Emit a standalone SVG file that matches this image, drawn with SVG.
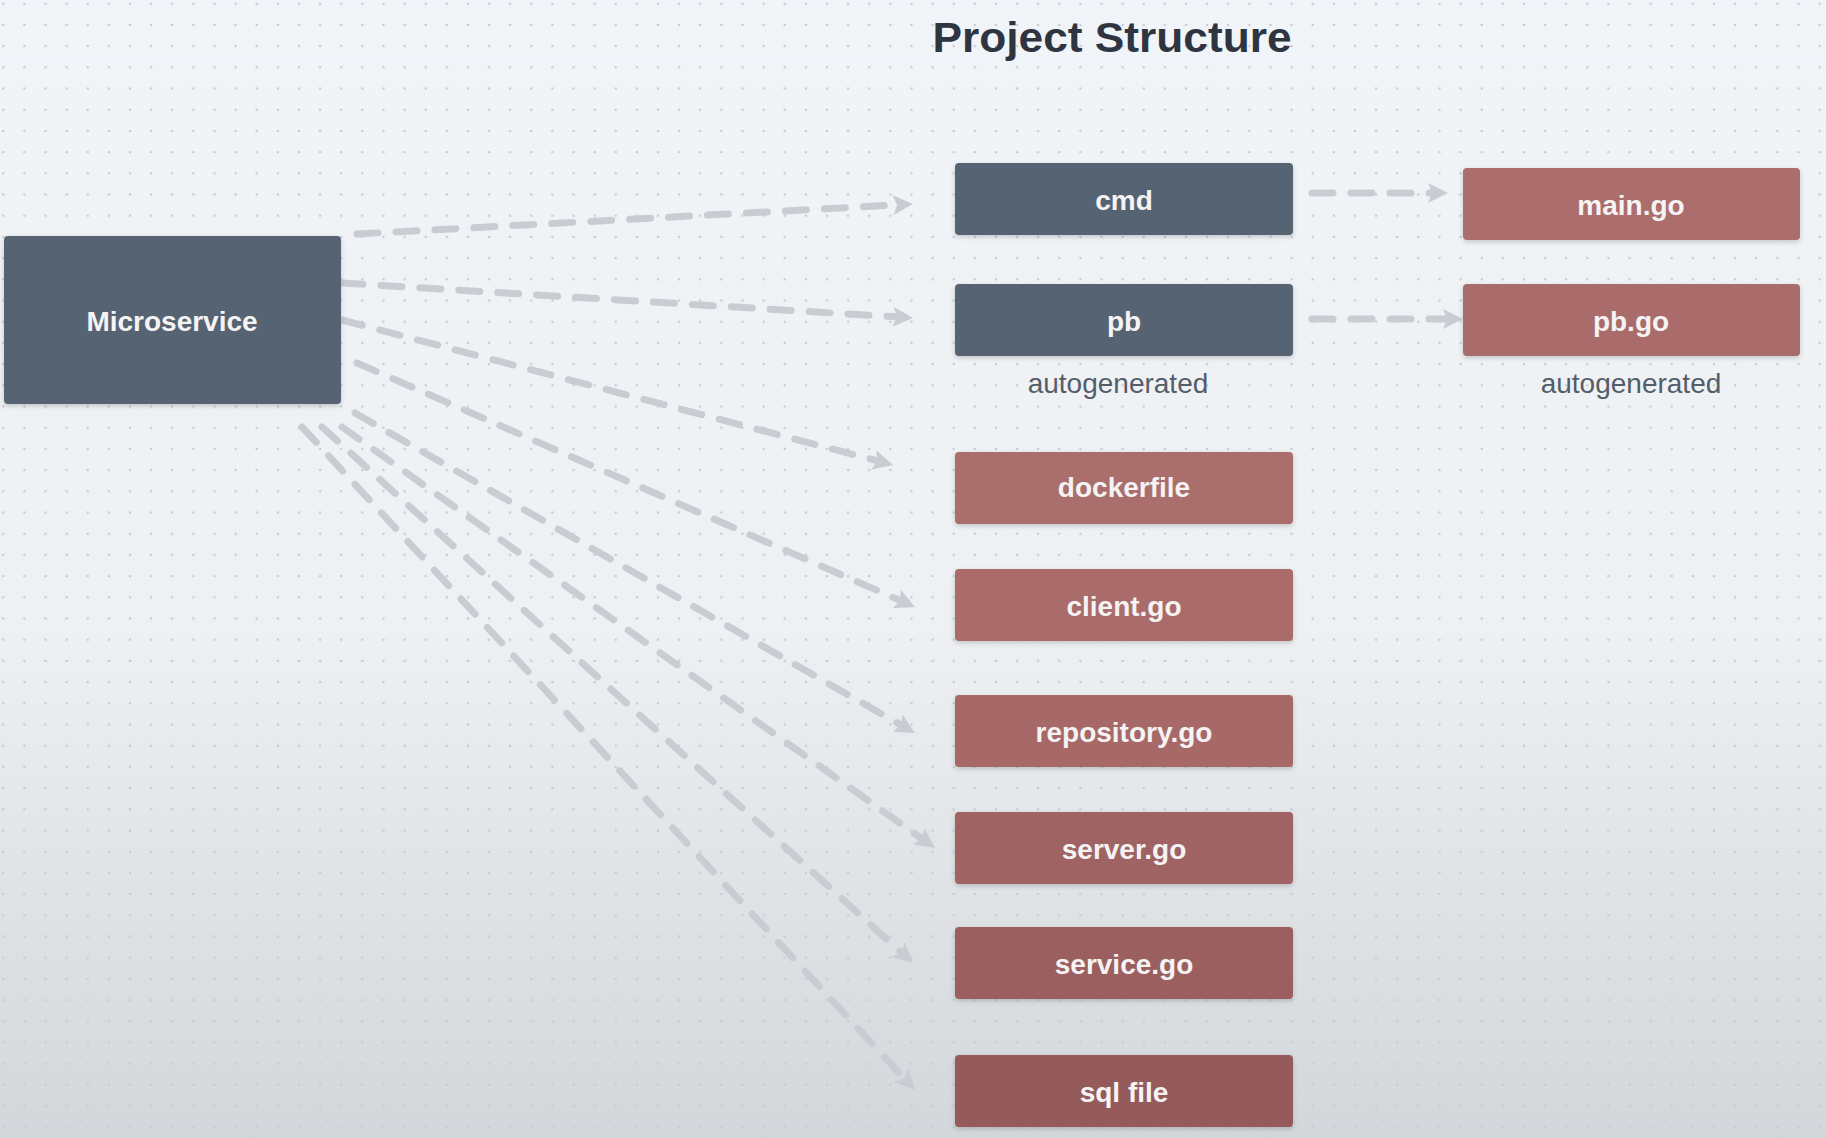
<svg xmlns="http://www.w3.org/2000/svg" width="1826" height="1138" viewBox="0 0 1826 1138">
<defs>
<style>
.lbl{font-family:"Liberation Sans",Arial,sans-serif;font-weight:bold;font-size:28px;fill:#f5f3f3;text-anchor:middle}
.note{font-family:"Liberation Sans",Arial,sans-serif;font-size:28px;fill:#545d68;text-anchor:middle}
.title{font-family:"Liberation Sans",Arial,sans-serif;font-weight:bold;font-size:43px;fill:#2e3540;text-anchor:middle}
.dark{fill:#576372}
.conn path{fill:none;stroke:#c9cdd3;stroke-width:7;stroke-dasharray:21 18;stroke-linecap:round;marker-end:url(#arr)}
</style>
<linearGradient id="bg" x1="0" y1="0" x2="0" y2="1">
<stop offset="0" stop-color="#f1f4f8"/>
<stop offset="0.55" stop-color="#eef0f3"/>
<stop offset="1" stop-color="#d3d6da"/>
</linearGradient>
<pattern id="dots" x="3.3" y="3.7" width="21.12" height="21.2" patternUnits="userSpaceOnUse">
<circle cx="0" cy="0" r="1.3" fill="#c6cbd2"/>
<circle cx="21.12" cy="0" r="1.3" fill="#c6cbd2"/>
<circle cx="0" cy="21.2" r="1.3" fill="#c6cbd2"/>
<circle cx="21.12" cy="21.2" r="1.3" fill="#c6cbd2"/>
</pattern>
<filter id="sh" x="-10%" y="-20%" width="120%" height="150%">
<feDropShadow dx="0" dy="2" stdDeviation="2.5" flood-color="#000" flood-opacity="0.18"/>
</filter>
<marker id="arr" markerUnits="userSpaceOnUse" markerWidth="30" markerHeight="30" refX="0" refY="0" orient="auto" overflow="visible">
<path d="M-6,-10 L14,0 L-6,10 L-2,0 Z" fill="#c9cdd3"/>
</marker>
</defs>
<rect x="0" y="0" width="1826" height="1138" fill="url(#bg)"/>
<rect x="0" y="0" width="1826" height="1138" fill="url(#dots)"/>
<text class="title" x="1112" y="52" textLength="359" lengthAdjust="spacingAndGlyphs">Project Structure</text>
<g class="conn" id="connectors">
<path d="M357,234 L899,204.8"/>
<path d="M342,283 L899,317.1"/>
<path d="M342,320 L879.5,461.4"/>
<path d="M357,363 L902.2,601.4"/>
<path d="M355,413 L902.8,726.1"/>
<path d="M342,427 L923.6,839.9"/>
<path d="M322,427 L902.6,953.6"/>
<path d="M302,427 L905.5,1079.7"/>
<path d="M1312,193 L1434,193"/>
<path d="M1312,319 L1449,319"/>
</g>
<g id="microservice"><rect x="4" y="236" width="337" height="168" rx="4" class="dark" filter="url(#sh)"/><text class="lbl" x="172" y="331" font-size="29">Microservice</text></g>
<g id="cmd"><rect x="955" y="163" width="338" height="72" rx="4" class="dark" filter="url(#sh)"/><text class="lbl" x="1124" y="210">cmd</text></g>
<g id="pb"><rect x="955" y="284" width="338" height="72" rx="4" class="dark" filter="url(#sh)"/><text class="lbl" x="1124" y="331">pb</text><text class="note" x="1118" y="393">autogenerated</text></g>
<g id="main-go"><rect x="1463" y="168" width="337" height="72" rx="4" fill="#ab6e6d" filter="url(#sh)"/><text class="lbl" x="1631" y="215">main.go</text></g>
<g id="pb-go"><rect x="1463" y="284" width="337" height="72" rx="4" fill="#aa6c6b" filter="url(#sh)"/><text class="lbl" x="1631" y="331">pb.go</text><text class="note" x="1631" y="393">autogenerated</text></g>
<g id="dockerfile"><rect x="955" y="452" width="338" height="72" rx="4" fill="#aa6e6d" filter="url(#sh)"/><text class="lbl" x="1124" y="497">dockerfile</text></g>
<g id="client-go"><rect x="955" y="569" width="338" height="72" rx="4" fill="#a96c6b" filter="url(#sh)"/><text class="lbl" x="1124" y="616">client.go</text></g>
<g id="repository-go"><rect x="955" y="695" width="338" height="72" rx="4" fill="#a66968" filter="url(#sh)"/><text class="lbl" x="1124" y="742">repository.go</text></g>
<g id="server-go"><rect x="955" y="812" width="338" height="72" rx="4" fill="#a06463" filter="url(#sh)"/><text class="lbl" x="1124" y="859">server.go</text></g>
<g id="service-go"><rect x="955" y="927" width="338" height="72" rx="4" fill="#9b5f5f" filter="url(#sh)"/><text class="lbl" x="1124" y="974">service.go</text></g>
<g id="sql-file"><rect x="955" y="1055" width="338" height="72" rx="4" fill="#955a5a" filter="url(#sh)"/><text class="lbl" x="1124" y="1102">sql file</text></g>
</svg>
